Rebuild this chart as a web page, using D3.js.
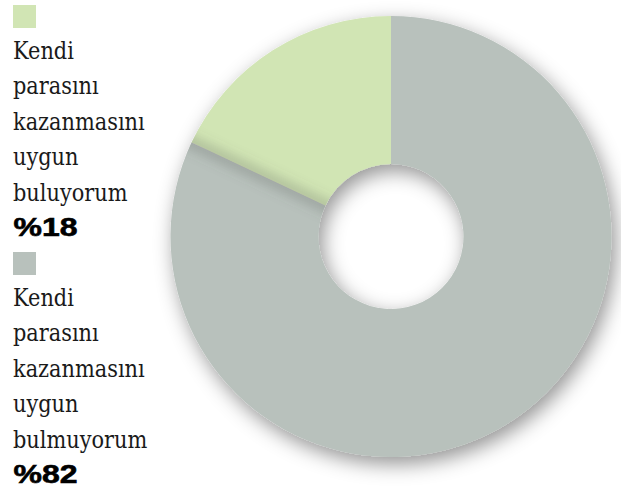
<!DOCTYPE html>
<html>
<head>
<meta charset="utf-8">
<script src="https://cdn.jsdelivr.net/npm/d3@7"></script>
<style>
  html, body { margin: 0; padding: 0; background: #ffffff; }
  svg { display: block; }
  .lbl { font-family: "DejaVu Serif", serif; font-size: 24px; fill: #1a1a1a; }
  .pct { font-family: "Liberation Sans", Arial, Helvetica, sans-serif; font-weight: 700; font-size: 26px; fill: #000; }
</style>
</head>
<body>
<svg id="chart" width="621" height="493"></svg>
<script>
// ---- data ----
const categories = ["Kendi parasını kazanmasını uygun buluyorum", "Kendi parasını kazanmasını uygun bulmuyorum"];
const labelLines = [
  ["Kendi", "parasını", "kazanmasını", "uygun", "buluyorum"],
  ["Kendi", "parasını", "kazanmasını", "uygun", "bulmuyorum"]
];
const values = [18, 82];
const valueLabels = ["%18", "%82"];
const colors = ["#d1e5b4", "#b8c1bc"];

// ---- layout ----
const svg = d3.select("#chart");
const cx = 391, cy = 236.5, outerR = 220.5, innerR = 72.5;
const total = d3.sum(values);
const tau = 2 * Math.PI;

const defs = svg.append("defs");
const shadow = defs.append("filter").attr("id", "shadow")
  .attr("x", "-30%").attr("y", "-30%").attr("width", "160%").attr("height", "160%");
shadow.append("feDropShadow")
  .attr("dx", 4).attr("dy", 7).attr("stdDeviation", 10)
  .attr("flood-color", "#000").attr("flood-opacity", 0.42);

const blur = defs.append("filter").attr("id", "seamblur")
  .attr("x", "-50%").attr("y", "-50%").attr("width", "200%").attr("height", "200%");
blur.append("feGaussianBlur").attr("stdDeviation", 6);

const pie = d3.pie().sort(null).value(d => d)
  .startAngle(-(values[0] / total) * tau)
  .endAngle(tau - (values[0] / total) * tau);
const arcs = pie(values);
const arc = d3.arc().innerRadius(innerR).outerRadius(outerR);

const g = svg.append("g").attr("transform", `translate(${cx},${cy})`);

defs.append("clipPath").attr("id", "donutclip")
  .append("path")
  .attr("transform", `translate(${cx},${cy})`)
  .attr("d", d3.arc().innerRadius(innerR).outerRadius(outerR).startAngle(0).endAngle(tau)());

const ring = g.append("g").attr("filter", "url(#shadow)");
ring.selectAll("path.slice")
  .data(arcs)
  .join("path")
  .attr("class", "slice")
  .attr("d", arc)
  .attr("fill", (d, i) => colors[i]);

// seam shading along slice boundaries
const seams = svg.append("g").attr("clip-path", "url(#donutclip)")
  .append("g").attr("transform", `translate(${cx},${cy})`);
seams.selectAll("line")
  .data(arcs.map(a => a.startAngle))
  .join("line")
  .attr("x1", a => Math.sin(a) * (innerR - 20))
  .attr("y1", a => -Math.cos(a) * (innerR - 20))
  .attr("x2", a => Math.sin(a) * (outerR + 20))
  .attr("y2", a => -Math.cos(a) * (outerR + 20))
  .attr("stroke", "#5a6058")
  .attr("stroke-opacity", 0.3)
  .attr("stroke-width", 12)
  .attr("filter", "url(#seamblur)");

// ---- legend ----
const legend = svg.append("g");
const groupTop = [5, 252];
const lineH = 35.4;
categories.forEach((c, i) => {
  const lg = legend.append("g").attr("transform", `translate(13,${groupTop[i]})`);
  lg.append("rect").attr("x", 0).attr("y", 0).attr("width", 23).attr("height", 23)
    .attr("fill", colors[i]);
  labelLines[i].forEach((t, j) => {
    lg.append("text")
      .attr("class", "lbl")
      .attr("transform", `translate(0,${54 + j * lineH}) scale(0.87,1)`)
      .text(t);
  });
  lg.append("text")
    .attr("class", "pct")
    .attr("x", 0.5).attr("y", 54 + labelLines[i].length * lineH)
    .attr("stroke", "#000").attr("stroke-width", 0.6)
    .attr("textLength", 64).attr("lengthAdjust", "spacingAndGlyphs")
    .text(valueLabels[i]);
});
</script>
</body>
</html>
